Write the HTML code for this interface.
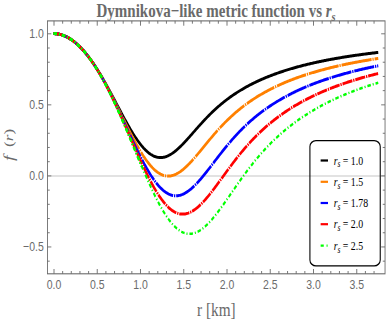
<!DOCTYPE html><html><head><meta charset="utf-8"><style>html,body{margin:0;padding:0;background:#fff}body{width:386px;height:321px;overflow:hidden;position:relative}</style></head><body><svg width="386" height="321" viewBox="0 0 386 321" style="position:absolute;left:0;top:0">
<rect width="386" height="321" fill="#fff"/>
<g transform="scale(0.800,1)">
<line x1="59.4" y1="175.9" x2="481.2" y2="175.9" stroke="#d9d9d9" stroke-width="1.5"/>
<path d="M66.88 33.60 L67.89 33.61 L68.90 33.65 L69.92 33.71 L70.93 33.80 L71.95 33.91 L72.96 34.05 L73.98 34.21 L74.99 34.40 L76.01 34.62 L77.02 34.85 L78.04 35.12 L79.05 35.40 L80.07 35.72 L81.08 36.06 L82.10 36.42 L83.11 36.81 L84.13 37.22 L85.14 37.66 L86.16 38.12 L87.17 38.61 L88.19 39.12 L89.20 39.66 L90.22 40.23 L91.23 40.81 L92.25 41.43 L93.26 42.06 L94.28 42.73 L95.29 43.41 L96.31 44.12 L97.32 44.86 L98.34 45.62 L99.35 46.41 L100.36 47.22 L101.38 48.05 L102.39 48.91 L103.41 49.79 L104.42 50.69 L105.44 51.62 L106.45 52.57 L107.47 53.55 L108.48 54.54 L109.50 55.57 L110.51 56.61 L111.53 57.68 L112.54 58.76 L113.56 59.87 L114.57 61.01 L115.59 62.16 L116.60 63.33 L117.62 64.53 L118.63 65.74 L119.65 66.98 L120.66 68.23 L121.68 69.51 L122.69 70.80 L123.71 72.11 L124.72 73.44 L125.74 74.78 L126.75 76.15 L127.77 77.52 L128.78 78.92 L129.80 80.33 L130.81 81.75 L131.82 83.18 L132.84 84.63 L133.85 86.09 L134.87 87.57 L135.88 89.05 L136.90 90.54 L137.91 92.04 L138.93 93.55 L139.94 95.07 L140.96 96.59 L141.97 98.12 L142.99 99.65 L144.00 101.19 L145.02 102.73 L146.03 104.27 L147.05 105.81 L148.06 107.34 L149.08 108.88 L150.09 110.42 L151.11 111.94 L152.12 113.47 L153.14 114.99 L154.15 116.50 L155.17 118.00 L156.18 119.49 L157.20 120.97 L158.21 122.43 L159.23 123.88 L160.24 125.32 L161.26 126.74 L162.27 128.14 L163.29 129.53 L164.30 130.89 L165.31 132.23 L166.33 133.55 L167.34 134.84 L168.36 136.11 L169.37 137.35 L170.39 138.57 L171.40 139.75 L172.42 140.91 L173.43 142.03 L174.45 143.12 L175.46 144.18 L176.48 145.20 L177.49 146.19 L178.51 147.14 L179.52 148.06 L180.54 148.93 L181.55 149.77 L182.57 150.57 L183.58 151.32 L184.60 152.04 L185.61 152.71 L186.63 153.34 L187.64 153.93 L188.66 154.47 L189.67 154.97 L190.69 155.43 L191.70 155.84 L192.72 156.21 L193.73 156.53 L194.75 156.81 L195.76 157.04 L196.78 157.23 L197.79 157.38 L198.80 157.48 L199.82 157.53 L200.83 157.54 L201.85 157.51 L202.86 157.44 L203.88 157.33 L204.89 157.17 L205.91 156.97 L206.92 156.74 L207.94 156.46 L208.95 156.15 L209.97 155.79 L210.98 155.41 L212.00 154.98 L213.01 154.52 L214.03 154.03 L215.04 153.51 L216.06 152.95 L217.07 152.37 L218.09 151.76 L219.10 151.12 L220.12 150.45 L221.13 149.76 L222.15 149.04 L223.16 148.31 L224.18 147.55 L225.19 146.77 L226.21 145.98 L227.22 145.16 L228.24 144.33 L229.25 143.49 L230.26 142.63 L231.28 141.77 L232.29 140.89 L233.31 140.00 L234.32 139.10 L235.34 138.20 L236.35 137.29 L237.37 136.37 L238.38 135.45 L239.40 134.53 L240.41 133.60 L241.43 132.68 L242.44 131.75 L243.46 130.82 L244.47 129.90 L245.49 128.97 L246.50 128.05 L247.52 127.14 L248.53 126.23 L249.55 125.32 L250.56 124.42 L251.58 123.52 L252.59 122.63 L253.61 121.75 L254.62 120.87 L255.64 120.00 L256.65 119.14 L257.67 118.29 L258.68 117.44 L259.70 116.60 L260.71 115.78 L261.73 114.96 L262.74 114.15 L263.75 113.35 L264.77 112.56 L265.78 111.78 L266.80 111.00 L267.81 110.24 L268.83 109.49 L269.84 108.75 L270.86 108.01 L271.87 107.29 L272.89 106.57 L273.90 105.87 L274.92 105.17 L275.93 104.48 L276.95 103.81 L277.96 103.14 L278.98 102.48 L279.99 101.83 L281.01 101.18 L282.02 100.55 L283.04 99.93 L284.05 99.31 L285.07 98.70 L286.08 98.10 L287.10 97.51 L288.11 96.92 L289.13 96.35 L290.14 95.78 L291.16 95.22 L292.17 94.67 L293.19 94.12 L294.20 93.58 L295.21 93.05 L296.23 92.52 L297.24 92.01 L298.26 91.50 L299.27 90.99 L300.29 90.49 L301.30 90.00 L302.32 89.52 L303.33 89.04 L304.35 88.57 L305.36 88.10 L306.38 87.64 L307.39 87.18 L308.41 86.73 L309.42 86.29 L310.44 85.85 L311.45 85.42 L312.47 84.99 L313.48 84.57 L314.50 84.15 L315.51 83.74 L316.53 83.33 L317.54 82.93 L318.56 82.53 L319.57 82.14 L320.59 81.75 L321.60 81.37 L322.62 80.99 L323.63 80.62 L324.65 80.25 L325.66 79.89 L326.68 79.52 L327.69 79.17 L328.70 78.81 L329.72 78.47 L330.73 78.12 L331.75 77.78 L332.76 77.44 L333.78 77.11 L334.79 76.78 L335.81 76.46 L336.82 76.14 L337.84 75.82 L338.85 75.50 L339.87 75.19 L340.88 74.89 L341.90 74.58 L342.91 74.28 L343.93 73.98 L344.94 73.69 L345.96 73.40 L346.97 73.11 L347.99 72.82 L349.00 72.54 L350.02 72.26 L351.03 71.99 L352.05 71.72 L353.06 71.45 L354.08 71.18 L355.09 70.92 L356.11 70.65 L357.12 70.40 L358.14 70.14 L359.15 69.89 L360.16 69.64 L361.18 69.39 L362.19 69.14 L363.21 68.90 L364.22 68.66 L365.24 68.42 L366.25 68.18 L367.27 67.95 L368.28 67.72 L369.30 67.49 L370.31 67.26 L371.33 67.04 L372.34 66.82 L373.36 66.60 L374.37 66.38 L375.39 66.17 L376.40 65.95 L377.42 65.74 L378.43 65.53 L379.45 65.33 L380.46 65.12 L381.48 64.92 L382.49 64.72 L383.51 64.52 L384.52 64.32 L385.54 64.13 L386.55 63.93 L387.57 63.74 L388.58 63.55 L389.60 63.36 L390.61 63.18 L391.62 62.99 L392.64 62.81 L393.65 62.63 L394.67 62.45 L395.68 62.27 L396.70 62.09 L397.71 61.92 L398.73 61.75 L399.74 61.58 L400.76 61.41 L401.77 61.24 L402.79 61.07 L403.80 60.91 L404.82 60.74 L405.83 60.58 L406.85 60.42 L407.86 60.26 L408.88 60.10 L409.89 59.94 L410.91 59.79 L411.92 59.64 L412.94 59.48 L413.95 59.33 L414.97 59.18 L415.98 59.03 L417.00 58.89 L418.01 58.74 L419.03 58.60 L420.04 58.45 L421.06 58.31 L422.07 58.17 L423.09 58.03 L424.10 57.89 L425.11 57.75 L426.13 57.62 L427.14 57.48 L428.16 57.35 L429.17 57.21 L430.19 57.08 L431.20 56.95 L432.22 56.82 L433.23 56.69 L434.25 56.57 L435.26 56.44 L436.28 56.32 L437.29 56.19 L438.31 56.07 L439.32 55.95 L440.34 55.82 L441.35 55.70 L442.37 55.58 L443.38 55.47 L444.40 55.35 L445.41 55.23 L446.43 55.12 L447.44 55.00 L448.46 54.89 L449.47 54.78 L450.49 54.66 L451.50 54.55 L452.52 54.44 L453.53 54.33 L454.55 54.23 L455.56 54.12 L456.57 54.01 L457.59 53.90 L458.60 53.80 L459.62 53.70 L460.63 53.59 L461.65 53.49 L462.66 53.39 L463.68 53.29 L464.69 53.19 L465.71 53.09 L466.72 52.99 L467.74 52.89 L468.75 52.79 L469.77 52.70 L470.78 52.60 L471.80 52.50 L472.81 52.41" fill="none" stroke="#000000" stroke-width="3.0"/>
<path d="M66.88 33.60 L67.89 33.61 L68.90 33.65 L69.92 33.71 L70.93 33.80 L71.95 33.91 L72.96 34.05 L73.98 34.21 L74.99 34.40 L76.01 34.62 L77.02 34.85 L78.04 35.12 L79.05 35.40 L80.07 35.72 L81.08 36.06 L82.10 36.42 L83.11 36.81 L84.13 37.22 L85.14 37.66 L86.16 38.12 L87.17 38.61 L88.19 39.13 L89.20 39.66 L90.22 40.23 L91.23 40.82 L92.25 41.43 L93.26 42.07 L94.28 42.73 L95.29 43.42 L96.31 44.13 L97.32 44.87 L98.34 45.63 L99.35 46.41 L100.36 47.22 L101.38 48.06 L102.39 48.92 L103.41 49.80 L104.42 50.71 L105.44 51.64 L106.45 52.59 L107.47 53.57 L108.48 54.57 L109.50 55.60 L110.51 56.65 L111.53 57.72 L112.54 58.82 L113.56 59.93 L114.57 61.07 L115.59 62.24 L116.60 63.42 L117.62 64.63 L118.63 65.85 L119.65 67.10 L120.66 68.37 L121.68 69.66 L122.69 70.97 L123.71 72.30 L124.72 73.65 L125.74 75.02 L126.75 76.41 L127.77 77.81 L128.78 79.23 L129.80 80.67 L130.81 82.13 L131.82 83.60 L132.84 85.09 L133.85 86.59 L134.87 88.11 L135.88 89.64 L136.90 91.19 L137.91 92.75 L138.93 94.32 L139.94 95.90 L140.96 97.49 L141.97 99.09 L142.99 100.70 L144.00 102.31 L145.02 103.94 L146.03 105.57 L147.05 107.21 L148.06 108.85 L149.08 110.49 L150.09 112.14 L151.11 113.79 L152.12 115.44 L153.14 117.09 L154.15 118.74 L155.17 120.39 L156.18 122.03 L157.20 123.67 L158.21 125.31 L159.23 126.93 L160.24 128.55 L161.26 130.16 L162.27 131.77 L163.29 133.36 L164.30 134.93 L165.31 136.50 L166.33 138.05 L167.34 139.58 L168.36 141.10 L169.37 142.59 L170.39 144.07 L171.40 145.53 L172.42 146.97 L173.43 148.38 L174.45 149.77 L175.46 151.14 L176.48 152.47 L177.49 153.78 L178.51 155.07 L179.52 156.32 L180.54 157.54 L181.55 158.73 L182.57 159.89 L183.58 161.01 L184.60 162.10 L185.61 163.15 L186.63 164.17 L187.64 165.14 L188.66 166.08 L189.67 166.98 L190.69 167.85 L191.70 168.67 L192.72 169.45 L193.73 170.18 L194.75 170.88 L195.76 171.53 L196.78 172.14 L197.79 172.71 L198.80 173.23 L199.82 173.71 L200.83 174.14 L201.85 174.53 L202.86 174.88 L203.88 175.18 L204.89 175.43 L205.91 175.64 L206.92 175.81 L207.94 175.93 L208.95 176.01 L209.97 176.04 L210.98 176.03 L212.00 175.98 L213.01 175.89 L214.03 175.75 L215.04 175.57 L216.06 175.35 L217.07 175.10 L218.09 174.80 L219.10 174.46 L220.12 174.09 L221.13 173.68 L222.15 173.24 L223.16 172.76 L224.18 172.24 L225.19 171.70 L226.21 171.12 L227.22 170.51 L228.24 169.88 L229.25 169.21 L230.26 168.52 L231.28 167.80 L232.29 167.06 L233.31 166.29 L234.32 165.50 L235.34 164.69 L236.35 163.86 L237.37 163.01 L238.38 162.15 L239.40 161.26 L240.41 160.37 L241.43 159.46 L242.44 158.53 L243.46 157.60 L244.47 156.65 L245.49 155.70 L246.50 154.73 L247.52 153.76 L248.53 152.79 L249.55 151.81 L250.56 150.82 L251.58 149.83 L252.59 148.84 L253.61 147.85 L254.62 146.85 L255.64 145.86 L256.65 144.87 L257.67 143.88 L258.68 142.89 L259.70 141.90 L260.71 140.92 L261.73 139.94 L262.74 138.97 L263.75 138.00 L264.77 137.04 L265.78 136.09 L266.80 135.14 L267.81 134.20 L268.83 133.26 L269.84 132.34 L270.86 131.42 L271.87 130.51 L272.89 129.60 L273.90 128.71 L274.92 127.83 L275.93 126.95 L276.95 126.08 L277.96 125.23 L278.98 124.38 L279.99 123.54 L281.01 122.71 L282.02 121.89 L283.04 121.08 L284.05 120.28 L285.07 119.49 L286.08 118.71 L287.10 117.94 L288.11 117.18 L289.13 116.42 L290.14 115.68 L291.16 114.94 L292.17 114.22 L293.19 113.50 L294.20 112.79 L295.21 112.10 L296.23 111.41 L297.24 110.72 L298.26 110.05 L299.27 109.39 L300.29 108.73 L301.30 108.08 L302.32 107.44 L303.33 106.81 L304.35 106.19 L305.36 105.57 L306.38 104.97 L307.39 104.37 L308.41 103.77 L309.42 103.19 L310.44 102.61 L311.45 102.04 L312.47 101.47 L313.48 100.92 L314.50 100.37 L315.51 99.82 L316.53 99.29 L317.54 98.75 L318.56 98.23 L319.57 97.71 L320.59 97.20 L321.60 96.69 L322.62 96.20 L323.63 95.70 L324.65 95.21 L325.66 94.73 L326.68 94.25 L327.69 93.78 L328.70 93.32 L329.72 92.86 L330.73 92.40 L331.75 91.95 L332.76 91.51 L333.78 91.07 L334.79 90.63 L335.81 90.20 L336.82 89.78 L337.84 89.36 L338.85 88.94 L339.87 88.53 L340.88 88.13 L341.90 87.73 L342.91 87.33 L343.93 86.94 L344.94 86.55 L345.96 86.16 L346.97 85.78 L347.99 85.41 L349.00 85.03 L350.02 84.67 L351.03 84.30 L352.05 83.94 L353.06 83.59 L354.08 83.23 L355.09 82.88 L356.11 82.54 L357.12 82.20 L358.14 81.86 L359.15 81.52 L360.16 81.19 L361.18 80.87 L362.19 80.54 L363.21 80.22 L364.22 79.90 L365.24 79.59 L366.25 79.28 L367.27 78.97 L368.28 78.66 L369.30 78.36 L370.31 78.06 L371.33 77.77 L372.34 77.47 L373.36 77.18 L374.37 76.90 L375.39 76.61 L376.40 76.33 L377.42 76.05 L378.43 75.78 L379.45 75.50 L380.46 75.23 L381.48 74.96 L382.49 74.70 L383.51 74.44 L384.52 74.17 L385.54 73.92 L386.55 73.66 L387.57 73.41 L388.58 73.16 L389.60 72.91 L390.61 72.66 L391.62 72.42 L392.64 72.18 L393.65 71.94 L394.67 71.70 L395.68 71.47 L396.70 71.23 L397.71 71.00 L398.73 70.77 L399.74 70.55 L400.76 70.32 L401.77 70.10 L402.79 69.88 L403.80 69.66 L404.82 69.45 L405.83 69.23 L406.85 69.02 L407.86 68.81 L408.88 68.60 L409.89 68.39 L410.91 68.19 L411.92 67.99 L412.94 67.78 L413.95 67.59 L414.97 67.39 L415.98 67.19 L417.00 67.00 L418.01 66.80 L419.03 66.61 L420.04 66.42 L421.06 66.24 L422.07 66.05 L423.09 65.86 L424.10 65.68 L425.11 65.50 L426.13 65.32 L427.14 65.14 L428.16 64.96 L429.17 64.79 L430.19 64.62 L431.20 64.44 L432.22 64.27 L433.23 64.10 L434.25 63.93 L435.26 63.77 L436.28 63.60 L437.29 63.44 L438.31 63.27 L439.32 63.11 L440.34 62.95 L441.35 62.79 L442.37 62.64 L443.38 62.48 L444.40 62.32 L445.41 62.17 L446.43 62.02 L447.44 61.87 L448.46 61.72 L449.47 61.57 L450.49 61.42 L451.50 61.27 L452.52 61.13 L453.53 60.98 L454.55 60.84 L455.56 60.70 L456.57 60.56 L457.59 60.42 L458.60 60.28 L459.62 60.14 L460.63 60.00 L461.65 59.87 L462.66 59.73 L463.68 59.60 L464.69 59.47 L465.71 59.34 L466.72 59.21 L467.74 59.08 L468.75 58.95 L469.77 58.82 L470.78 58.69 L471.80 58.57 L472.81 58.44" fill="none" stroke="#ff8000" stroke-width="3.0" stroke-dasharray="37.9 1.1 1.6 1.1"/>
<path d="M66.88 33.60 L67.89 33.61 L68.90 33.65 L69.92 33.71 L70.93 33.80 L71.95 33.91 L72.96 34.05 L73.98 34.21 L74.99 34.40 L76.01 34.62 L77.02 34.85 L78.04 35.12 L79.05 35.40 L80.07 35.72 L81.08 36.06 L82.10 36.42 L83.11 36.81 L84.13 37.22 L85.14 37.66 L86.16 38.12 L87.17 38.61 L88.19 39.13 L89.20 39.66 L90.22 40.23 L91.23 40.82 L92.25 41.43 L93.26 42.07 L94.28 42.73 L95.29 43.42 L96.31 44.13 L97.32 44.87 L98.34 45.63 L99.35 46.42 L100.36 47.23 L101.38 48.06 L102.39 48.93 L103.41 49.81 L104.42 50.72 L105.44 51.65 L106.45 52.61 L107.47 53.59 L108.48 54.60 L109.50 55.63 L110.51 56.68 L111.53 57.75 L112.54 58.85 L113.56 59.98 L114.57 61.12 L115.59 62.29 L116.60 63.48 L117.62 64.70 L118.63 65.93 L119.65 67.19 L120.66 68.47 L121.68 69.77 L122.69 71.09 L123.71 72.44 L124.72 73.80 L125.74 75.19 L126.75 76.59 L127.77 78.02 L128.78 79.46 L129.80 80.92 L130.81 82.40 L131.82 83.90 L132.84 85.42 L133.85 86.95 L134.87 88.50 L135.88 90.07 L136.90 91.66 L137.91 93.25 L138.93 94.87 L139.94 96.49 L140.96 98.13 L141.97 99.79 L142.99 101.45 L144.00 103.13 L145.02 104.82 L146.03 106.52 L147.05 108.23 L148.06 109.95 L149.08 111.67 L150.09 113.40 L151.11 115.14 L152.12 116.89 L153.14 118.64 L154.15 120.39 L155.17 122.15 L156.18 123.91 L157.20 125.67 L158.21 127.43 L159.23 129.19 L160.24 130.95 L161.26 132.71 L162.27 134.46 L163.29 136.21 L164.30 137.95 L165.31 139.69 L166.33 141.42 L167.34 143.14 L168.36 144.85 L169.37 146.55 L170.39 148.24 L171.40 149.91 L172.42 151.57 L173.43 153.22 L174.45 154.85 L175.46 156.46 L176.48 158.06 L177.49 159.63 L178.51 161.18 L179.52 162.71 L180.54 164.22 L181.55 165.71 L182.57 167.16 L183.58 168.60 L184.60 170.00 L185.61 171.38 L186.63 172.73 L187.64 174.05 L188.66 175.33 L189.67 176.59 L190.69 177.81 L191.70 178.99 L192.72 180.14 L193.73 181.26 L194.75 182.34 L195.76 183.38 L196.78 184.38 L197.79 185.35 L198.80 186.27 L199.82 187.16 L200.83 188.00 L201.85 188.80 L202.86 189.56 L203.88 190.28 L204.89 190.95 L205.91 191.58 L206.92 192.17 L207.94 192.71 L208.95 193.21 L209.97 193.66 L210.98 194.07 L212.00 194.44 L213.01 194.76 L214.03 195.03 L215.04 195.26 L216.06 195.45 L217.07 195.59 L218.09 195.69 L219.10 195.74 L220.12 195.75 L221.13 195.72 L222.15 195.65 L223.16 195.53 L224.18 195.37 L225.19 195.17 L226.21 194.93 L227.22 194.65 L228.24 194.33 L229.25 193.97 L230.26 193.58 L231.28 193.15 L232.29 192.68 L233.31 192.18 L234.32 191.64 L235.34 191.07 L236.35 190.47 L237.37 189.84 L238.38 189.18 L239.40 188.49 L240.41 187.77 L241.43 187.02 L242.44 186.25 L243.46 185.45 L244.47 184.63 L245.49 183.79 L246.50 182.93 L247.52 182.05 L248.53 181.15 L249.55 180.23 L250.56 179.29 L251.58 178.34 L252.59 177.38 L253.61 176.40 L254.62 175.41 L255.64 174.40 L256.65 173.39 L257.67 172.37 L258.68 171.34 L259.70 170.31 L260.71 169.26 L261.73 168.22 L262.74 167.17 L263.75 166.11 L264.77 165.05 L265.78 164.00 L266.80 162.94 L267.81 161.88 L268.83 160.82 L269.84 159.76 L270.86 158.70 L271.87 157.65 L272.89 156.60 L273.90 155.55 L274.92 154.51 L275.93 153.47 L276.95 152.44 L277.96 151.41 L278.98 150.39 L279.99 149.38 L281.01 148.37 L282.02 147.38 L283.04 146.38 L284.05 145.40 L285.07 144.43 L286.08 143.46 L287.10 142.50 L288.11 141.55 L289.13 140.61 L290.14 139.68 L291.16 138.75 L292.17 137.84 L293.19 136.94 L294.20 136.04 L295.21 135.16 L296.23 134.28 L297.24 133.41 L298.26 132.56 L299.27 131.71 L300.29 130.87 L301.30 130.04 L302.32 129.22 L303.33 128.41 L304.35 127.61 L305.36 126.82 L306.38 126.04 L307.39 125.27 L308.41 124.51 L309.42 123.75 L310.44 123.01 L311.45 122.27 L312.47 121.54 L313.48 120.82 L314.50 120.11 L315.51 119.41 L316.53 118.71 L317.54 118.03 L318.56 117.35 L319.57 116.68 L320.59 116.02 L321.60 115.36 L322.62 114.71 L323.63 114.07 L324.65 113.44 L325.66 112.82 L326.68 112.20 L327.69 111.59 L328.70 110.99 L329.72 110.39 L330.73 109.80 L331.75 109.22 L332.76 108.64 L333.78 108.07 L334.79 107.51 L335.81 106.95 L336.82 106.40 L337.84 105.86 L338.85 105.32 L339.87 104.79 L340.88 104.26 L341.90 103.74 L342.91 103.23 L343.93 102.72 L344.94 102.22 L345.96 101.72 L346.97 101.22 L347.99 100.74 L349.00 100.25 L350.02 99.78 L351.03 99.31 L352.05 98.84 L353.06 98.38 L354.08 97.92 L355.09 97.47 L356.11 97.02 L357.12 96.58 L358.14 96.14 L359.15 95.71 L360.16 95.28 L361.18 94.85 L362.19 94.43 L363.21 94.02 L364.22 93.60 L365.24 93.20 L366.25 92.79 L367.27 92.39 L368.28 92.00 L369.30 91.61 L370.31 91.22 L371.33 90.84 L372.34 90.46 L373.36 90.08 L374.37 89.71 L375.39 89.34 L376.40 88.98 L377.42 88.61 L378.43 88.26 L379.45 87.90 L380.46 87.55 L381.48 87.20 L382.49 86.86 L383.51 86.52 L384.52 86.18 L385.54 85.85 L386.55 85.52 L387.57 85.19 L388.58 84.86 L389.60 84.54 L390.61 84.22 L391.62 83.91 L392.64 83.59 L393.65 83.28 L394.67 82.98 L395.68 82.67 L396.70 82.37 L397.71 82.07 L398.73 81.78 L399.74 81.48 L400.76 81.19 L401.77 80.90 L402.79 80.62 L403.80 80.34 L404.82 80.05 L405.83 79.78 L406.85 79.50 L407.86 79.23 L408.88 78.96 L409.89 78.69 L410.91 78.43 L411.92 78.16 L412.94 77.90 L413.95 77.64 L414.97 77.39 L415.98 77.13 L417.00 76.88 L418.01 76.63 L419.03 76.38 L420.04 76.14 L421.06 75.89 L422.07 75.65 L423.09 75.41 L424.10 75.18 L425.11 74.94 L426.13 74.71 L427.14 74.48 L428.16 74.25 L429.17 74.02 L430.19 73.79 L431.20 73.57 L432.22 73.35 L433.23 73.13 L434.25 72.91 L435.26 72.69 L436.28 72.48 L437.29 72.27 L438.31 72.06 L439.32 71.85 L440.34 71.64 L441.35 71.43 L442.37 71.23 L443.38 71.03 L444.40 70.83 L445.41 70.63 L446.43 70.43 L447.44 70.23 L448.46 70.04 L449.47 69.84 L450.49 69.65 L451.50 69.46 L452.52 69.27 L453.53 69.09 L454.55 68.90 L455.56 68.72 L456.57 68.53 L457.59 68.35 L458.60 68.17 L459.62 68.00 L460.63 67.82 L461.65 67.64 L462.66 67.47 L463.68 67.30 L464.69 67.12 L465.71 66.95 L466.72 66.78 L467.74 66.62 L468.75 66.45 L469.77 66.28 L470.78 66.12 L471.80 65.96 L472.81 65.80" fill="none" stroke="#0000ff" stroke-width="3.0" stroke-dasharray="25.2 1.1 1.6 1.1"/>
<path d="M66.88 33.60 L67.89 33.61 L68.90 33.65 L69.92 33.71 L70.93 33.80 L71.95 33.91 L72.96 34.05 L73.98 34.21 L74.99 34.40 L76.01 34.62 L77.02 34.85 L78.04 35.12 L79.05 35.40 L80.07 35.72 L81.08 36.06 L82.10 36.42 L83.11 36.81 L84.13 37.22 L85.14 37.66 L86.16 38.12 L87.17 38.61 L88.19 39.13 L89.20 39.66 L90.22 40.23 L91.23 40.82 L92.25 41.43 L93.26 42.07 L94.28 42.73 L95.29 43.42 L96.31 44.13 L97.32 44.87 L98.34 45.63 L99.35 46.42 L100.36 47.23 L101.38 48.07 L102.39 48.93 L103.41 49.82 L104.42 50.73 L105.44 51.66 L106.45 52.62 L107.47 53.60 L108.48 54.61 L109.50 55.64 L110.51 56.70 L111.53 57.78 L112.54 58.88 L113.56 60.00 L114.57 61.15 L115.59 62.33 L116.60 63.52 L117.62 64.74 L118.63 65.98 L119.65 67.25 L120.66 68.53 L121.68 69.84 L122.69 71.17 L123.71 72.53 L124.72 73.90 L125.74 75.30 L126.75 76.71 L127.77 78.15 L128.78 79.61 L129.80 81.09 L130.81 82.58 L131.82 84.10 L132.84 85.64 L133.85 87.19 L134.87 88.76 L135.88 90.35 L136.90 91.96 L137.91 93.59 L138.93 95.23 L139.94 96.89 L140.96 98.56 L141.97 100.25 L142.99 101.95 L144.00 103.67 L145.02 105.40 L146.03 107.15 L147.05 108.90 L148.06 110.67 L149.08 112.45 L150.09 114.24 L151.11 116.04 L152.12 117.85 L153.14 119.67 L154.15 121.49 L155.17 123.32 L156.18 125.16 L157.20 127.00 L158.21 128.85 L159.23 130.70 L160.24 132.56 L161.26 134.41 L162.27 136.27 L163.29 138.13 L164.30 139.99 L165.31 141.84 L166.33 143.70 L167.34 145.55 L168.36 147.39 L169.37 149.24 L170.39 151.07 L171.40 152.90 L172.42 154.72 L173.43 156.53 L174.45 158.33 L175.46 160.11 L176.48 161.89 L177.49 163.65 L178.51 165.40 L179.52 167.13 L180.54 168.85 L181.55 170.55 L182.57 172.23 L183.58 173.89 L184.60 175.53 L185.61 177.14 L186.63 178.74 L187.64 180.31 L188.66 181.85 L189.67 183.37 L190.69 184.87 L191.70 186.33 L192.72 187.77 L193.73 189.17 L194.75 190.55 L195.76 191.89 L196.78 193.20 L197.79 194.48 L198.80 195.72 L199.82 196.93 L200.83 198.10 L201.85 199.24 L202.86 200.33 L203.88 201.39 L204.89 202.41 L205.91 203.39 L206.92 204.33 L207.94 205.23 L208.95 206.09 L209.97 206.91 L210.98 207.68 L212.00 208.41 L213.01 209.10 L214.03 209.74 L215.04 210.34 L216.06 210.90 L217.07 211.41 L218.09 211.88 L219.10 212.30 L220.12 212.68 L221.13 213.01 L222.15 213.30 L223.16 213.54 L224.18 213.74 L225.19 213.90 L226.21 214.01 L227.22 214.08 L228.24 214.10 L229.25 214.08 L230.26 214.02 L231.28 213.91 L232.29 213.77 L233.31 213.58 L234.32 213.35 L235.34 213.08 L236.35 212.77 L237.37 212.42 L238.38 212.04 L239.40 211.62 L240.41 211.16 L241.43 210.66 L242.44 210.13 L243.46 209.57 L244.47 208.97 L245.49 208.34 L246.50 207.68 L247.52 206.99 L248.53 206.27 L249.55 205.52 L250.56 204.75 L251.58 203.95 L252.59 203.12 L253.61 202.27 L254.62 201.40 L255.64 200.50 L256.65 199.59 L257.67 198.65 L258.68 197.70 L259.70 196.73 L260.71 195.74 L261.73 194.74 L262.74 193.72 L263.75 192.69 L264.77 191.64 L265.78 190.59 L266.80 189.52 L267.81 188.45 L268.83 187.37 L269.84 186.28 L270.86 185.18 L271.87 184.08 L272.89 182.97 L273.90 181.86 L274.92 180.75 L275.93 179.63 L276.95 178.51 L277.96 177.39 L278.98 176.27 L279.99 175.16 L281.01 174.04 L282.02 172.93 L283.04 171.81 L284.05 170.71 L285.07 169.60 L286.08 168.50 L287.10 167.41 L288.11 166.31 L289.13 165.23 L290.14 164.15 L291.16 163.08 L292.17 162.01 L293.19 160.95 L294.20 159.90 L295.21 158.86 L296.23 157.82 L297.24 156.79 L298.26 155.77 L299.27 154.76 L300.29 153.76 L301.30 152.77 L302.32 151.79 L303.33 150.81 L304.35 149.84 L305.36 148.89 L306.38 147.94 L307.39 147.00 L308.41 146.08 L309.42 145.16 L310.44 144.25 L311.45 143.35 L312.47 142.46 L313.48 141.58 L314.50 140.71 L315.51 139.85 L316.53 138.99 L317.54 138.15 L318.56 137.32 L319.57 136.49 L320.59 135.68 L321.60 134.87 L322.62 134.07 L323.63 133.29 L324.65 132.51 L325.66 131.73 L326.68 130.97 L327.69 130.22 L328.70 129.47 L329.72 128.74 L330.73 128.01 L331.75 127.29 L332.76 126.58 L333.78 125.87 L334.79 125.17 L335.81 124.49 L336.82 123.80 L337.84 123.13 L338.85 122.46 L339.87 121.80 L340.88 121.15 L341.90 120.51 L342.91 119.87 L343.93 119.24 L344.94 118.62 L345.96 118.00 L346.97 117.39 L347.99 116.79 L349.00 116.19 L350.02 115.60 L351.03 115.01 L352.05 114.43 L353.06 113.86 L354.08 113.30 L355.09 112.74 L356.11 112.18 L357.12 111.63 L358.14 111.09 L359.15 110.55 L360.16 110.02 L361.18 109.50 L362.19 108.97 L363.21 108.46 L364.22 107.95 L365.24 107.44 L366.25 106.94 L367.27 106.45 L368.28 105.96 L369.30 105.48 L370.31 105.00 L371.33 104.52 L372.34 104.05 L373.36 103.58 L374.37 103.12 L375.39 102.67 L376.40 102.21 L377.42 101.77 L378.43 101.32 L379.45 100.88 L380.46 100.45 L381.48 100.02 L382.49 99.59 L383.51 99.17 L384.52 98.75 L385.54 98.34 L386.55 97.93 L387.57 97.52 L388.58 97.12 L389.60 96.72 L390.61 96.32 L391.62 95.93 L392.64 95.54 L393.65 95.16 L394.67 94.78 L395.68 94.40 L396.70 94.03 L397.71 93.66 L398.73 93.29 L399.74 92.93 L400.76 92.57 L401.77 92.21 L402.79 91.86 L403.80 91.51 L404.82 91.16 L405.83 90.82 L406.85 90.48 L407.86 90.14 L408.88 89.80 L409.89 89.47 L410.91 89.14 L411.92 88.81 L412.94 88.49 L413.95 88.17 L414.97 87.85 L415.98 87.54 L417.00 87.23 L418.01 86.92 L419.03 86.61 L420.04 86.31 L421.06 86.00 L422.07 85.70 L423.09 85.41 L424.10 85.11 L425.11 84.82 L426.13 84.53 L427.14 84.25 L428.16 83.96 L429.17 83.68 L430.19 83.40 L431.20 83.12 L432.22 82.85 L433.23 82.58 L434.25 82.31 L435.26 82.04 L436.28 81.77 L437.29 81.51 L438.31 81.25 L439.32 80.99 L440.34 80.73 L441.35 80.48 L442.37 80.22 L443.38 79.97 L444.40 79.72 L445.41 79.48 L446.43 79.23 L447.44 78.99 L448.46 78.75 L449.47 78.51 L450.49 78.27 L451.50 78.04 L452.52 77.80 L453.53 77.57 L454.55 77.34 L455.56 77.11 L456.57 76.89 L457.59 76.66 L458.60 76.44 L459.62 76.22 L460.63 76.00 L461.65 75.78 L462.66 75.56 L463.68 75.35 L464.69 75.14 L465.71 74.93 L466.72 74.72 L467.74 74.51 L468.75 74.30 L469.77 74.10 L470.78 73.89 L471.80 73.69 L472.81 73.49" fill="none" stroke="#ff0000" stroke-width="3.0" stroke-dasharray="12.7 1.1 1.6 1.1"/>
<path d="M66.88 33.60 L67.89 33.61 L68.90 33.65 L69.92 33.71 L70.93 33.80 L71.95 33.91 L72.96 34.05 L73.98 34.21 L74.99 34.40 L76.01 34.62 L77.02 34.85 L78.04 35.12 L79.05 35.40 L80.07 35.72 L81.08 36.06 L82.10 36.42 L83.11 36.81 L84.13 37.22 L85.14 37.66 L86.16 38.12 L87.17 38.61 L88.19 39.13 L89.20 39.66 L90.22 40.23 L91.23 40.82 L92.25 41.43 L93.26 42.07 L94.28 42.73 L95.29 43.42 L96.31 44.13 L97.32 44.87 L98.34 45.64 L99.35 46.42 L100.36 47.24 L101.38 48.07 L102.39 48.93 L103.41 49.82 L104.42 50.73 L105.44 51.67 L106.45 52.63 L107.47 53.61 L108.48 54.62 L109.50 55.65 L110.51 56.71 L111.53 57.79 L112.54 58.90 L113.56 60.03 L114.57 61.18 L115.59 62.35 L116.60 63.55 L117.62 64.78 L118.63 66.02 L119.65 67.29 L120.66 68.59 L121.68 69.90 L122.69 71.24 L123.71 72.60 L124.72 73.98 L125.74 75.38 L126.75 76.81 L127.77 78.26 L128.78 79.72 L129.80 81.21 L130.81 82.72 L131.82 84.25 L132.84 85.81 L133.85 87.38 L134.87 88.97 L135.88 90.58 L136.90 92.20 L137.91 93.85 L138.93 95.52 L139.94 97.20 L140.96 98.90 L141.97 100.62 L142.99 102.35 L144.00 104.10 L145.02 105.86 L146.03 107.64 L147.05 109.44 L148.06 111.25 L149.08 113.07 L150.09 114.90 L151.11 116.75 L152.12 118.61 L153.14 120.48 L154.15 122.36 L155.17 124.26 L156.18 126.16 L157.20 128.07 L158.21 129.98 L159.23 131.91 L160.24 133.84 L161.26 135.78 L162.27 137.72 L163.29 139.67 L164.30 141.62 L165.31 143.57 L166.33 145.53 L167.34 147.48 L168.36 149.44 L169.37 151.40 L170.39 153.35 L171.40 155.31 L172.42 157.26 L173.43 159.20 L174.45 161.14 L175.46 163.08 L176.48 165.00 L177.49 166.93 L178.51 168.84 L179.52 170.74 L180.54 172.63 L181.55 174.51 L182.57 176.37 L183.58 178.23 L184.60 180.07 L185.61 181.89 L186.63 183.69 L187.64 185.48 L188.66 187.25 L189.67 189.00 L190.69 190.73 L191.70 192.44 L192.72 194.12 L193.73 195.79 L194.75 197.42 L195.76 199.03 L196.78 200.62 L197.79 202.18 L198.80 203.71 L199.82 205.20 L200.83 206.67 L201.85 208.11 L202.86 209.52 L203.88 210.89 L204.89 212.23 L205.91 213.54 L206.92 214.81 L207.94 216.04 L208.95 217.24 L209.97 218.40 L210.98 219.52 L212.00 220.60 L213.01 221.64 L214.03 222.65 L215.04 223.61 L216.06 224.53 L217.07 225.41 L218.09 226.24 L219.10 227.04 L220.12 227.79 L221.13 228.50 L222.15 229.16 L223.16 229.78 L224.18 230.36 L225.19 230.89 L226.21 231.38 L227.22 231.82 L228.24 232.22 L229.25 232.57 L230.26 232.88 L231.28 233.15 L232.29 233.36 L233.31 233.54 L234.32 233.67 L235.34 233.76 L236.35 233.80 L237.37 233.80 L238.38 233.76 L239.40 233.67 L240.41 233.55 L241.43 233.38 L242.44 233.17 L243.46 232.92 L244.47 232.62 L245.49 232.29 L246.50 231.92 L247.52 231.52 L248.53 231.07 L249.55 230.59 L250.56 230.07 L251.58 229.52 L252.59 228.94 L253.61 228.32 L254.62 227.66 L255.64 226.98 L256.65 226.27 L257.67 225.52 L258.68 224.75 L259.70 223.95 L260.71 223.12 L261.73 222.27 L262.74 221.39 L263.75 220.49 L264.77 219.57 L265.78 218.62 L266.80 217.66 L267.81 216.67 L268.83 215.67 L269.84 214.65 L270.86 213.61 L271.87 212.55 L272.89 211.48 L273.90 210.40 L274.92 209.31 L275.93 208.20 L276.95 207.08 L277.96 205.96 L278.98 204.82 L279.99 203.68 L281.01 202.53 L282.02 201.37 L283.04 200.21 L284.05 199.04 L285.07 197.87 L286.08 196.70 L287.10 195.52 L288.11 194.34 L289.13 193.17 L290.14 191.99 L291.16 190.81 L292.17 189.64 L293.19 188.46 L294.20 187.29 L295.21 186.12 L296.23 184.96 L297.24 183.79 L298.26 182.64 L299.27 181.49 L300.29 180.34 L301.30 179.20 L302.32 178.06 L303.33 176.94 L304.35 175.82 L305.36 174.70 L306.38 173.60 L307.39 172.50 L308.41 171.41 L309.42 170.32 L310.44 169.25 L311.45 168.18 L312.47 167.13 L313.48 166.08 L314.50 165.04 L315.51 164.01 L316.53 162.99 L317.54 161.98 L318.56 160.97 L319.57 159.98 L320.59 159.00 L321.60 158.02 L322.62 157.06 L323.63 156.10 L324.65 155.16 L325.66 154.22 L326.68 153.30 L327.69 152.38 L328.70 151.47 L329.72 150.57 L330.73 149.69 L331.75 148.81 L332.76 147.94 L333.78 147.08 L334.79 146.22 L335.81 145.38 L336.82 144.55 L337.84 143.72 L338.85 142.90 L339.87 142.10 L340.88 141.30 L341.90 140.51 L342.91 139.72 L343.93 138.95 L344.94 138.18 L345.96 137.43 L346.97 136.68 L347.99 135.94 L349.00 135.20 L350.02 134.48 L351.03 133.76 L352.05 133.05 L353.06 132.34 L354.08 131.65 L355.09 130.96 L356.11 130.28 L357.12 129.60 L358.14 128.93 L359.15 128.27 L360.16 127.62 L361.18 126.97 L362.19 126.33 L363.21 125.70 L364.22 125.07 L365.24 124.45 L366.25 123.84 L367.27 123.23 L368.28 122.62 L369.30 122.03 L370.31 121.44 L371.33 120.85 L372.34 120.27 L373.36 119.70 L374.37 119.13 L375.39 118.57 L376.40 118.02 L377.42 117.46 L378.43 116.92 L379.45 116.38 L380.46 115.84 L381.48 115.31 L382.49 114.79 L383.51 114.27 L384.52 113.76 L385.54 113.25 L386.55 112.74 L387.57 112.24 L388.58 111.75 L389.60 111.25 L390.61 110.77 L391.62 110.29 L392.64 109.81 L393.65 109.34 L394.67 108.87 L395.68 108.41 L396.70 107.95 L397.71 107.49 L398.73 107.04 L399.74 106.59 L400.76 106.15 L401.77 105.71 L402.79 105.27 L403.80 104.84 L404.82 104.42 L405.83 103.99 L406.85 103.57 L407.86 103.16 L408.88 102.75 L409.89 102.34 L410.91 101.93 L411.92 101.53 L412.94 101.13 L413.95 100.74 L414.97 100.35 L415.98 99.96 L417.00 99.58 L418.01 99.19 L419.03 98.82 L420.04 98.44 L421.06 98.07 L422.07 97.70 L423.09 97.34 L424.10 96.98 L425.11 96.62 L426.13 96.26 L427.14 95.91 L428.16 95.56 L429.17 95.21 L430.19 94.87 L431.20 94.53 L432.22 94.19 L433.23 93.86 L434.25 93.52 L435.26 93.19 L436.28 92.87 L437.29 92.54 L438.31 92.22 L439.32 91.90 L440.34 91.59 L441.35 91.27 L442.37 90.96 L443.38 90.65 L444.40 90.35 L445.41 90.04 L446.43 89.74 L447.44 89.44 L448.46 89.15 L449.47 88.85 L450.49 88.56 L451.50 88.27 L452.52 87.98 L453.53 87.70 L454.55 87.41 L455.56 87.13 L456.57 86.85 L457.59 86.58 L458.60 86.30 L459.62 86.03 L460.63 85.76 L461.65 85.49 L462.66 85.23 L463.68 84.97 L464.69 84.70 L465.71 84.44 L466.72 84.19 L467.74 83.93 L468.75 83.68 L469.77 83.42 L470.78 83.17 L471.80 82.93 L472.81 82.68" fill="none" stroke="#00ff00" stroke-width="2.5" stroke-dasharray="4.4 2.4 1.3 2.4"/>
<path d="M66.88 33.60 L67.15 33.60 L67.43 33.60 L67.70 33.61 L67.98 33.61 L68.26 33.62 L68.53 33.63 L68.81 33.65 L69.08 33.66 L69.36 33.68 L69.64 33.69 L69.91 33.71 L70.19 33.73 L70.46 33.76 L70.74 33.78 L71.02 33.81 L71.29 33.84 L71.57 33.87 L71.84 33.90 L72.12 33.93 L72.40 33.97 L72.67 34.01 L72.95 34.05 L73.22 34.09 L73.50 34.13 L73.78 34.18 L74.05 34.23 L74.33 34.28 L74.60 34.33 L74.88 34.38 L75.16 34.43 L75.43 34.49 L75.71 34.55 L75.98 34.61 L76.26 34.67 L76.54 34.74 L76.81 34.80 L77.09 34.87 L77.36 34.94 L77.64 35.01 L77.92 35.08 L78.19 35.16 L78.47 35.24 L78.74 35.31 L79.02 35.40 L79.30 35.48 L79.57 35.56 L79.85 35.65 L80.12 35.74 L80.40 35.83 L80.68 35.92 L80.95 36.01 L81.23 36.11 L81.50 36.20 L81.78 36.30 L82.06 36.40 L82.33 36.51 L82.61 36.61 L82.89 36.72 L83.16 36.83 L83.44 36.94 L83.71 37.05 L83.99 37.16 L84.27 37.28 L84.54 37.40 L84.82 37.52 L85.09 37.64 L85.37 37.76 L85.65 37.89 L85.92 38.01 L86.20 38.14 L86.47 38.27 L86.75 38.41 L87.03 38.54 L87.30 38.68 L87.58 38.82 L87.85 38.96 L88.13 39.10 L88.41 39.24 L88.68 39.39 L88.96 39.53 L89.23 39.68 L89.51 39.83 L89.79 39.99 L90.06 40.14 L90.34 40.30 L90.61 40.46 L90.89 40.62 L91.17 40.78 L91.44 40.94 L91.72 41.11 L91.99 41.28 L92.27 41.45 L92.55 41.62 L92.82 41.79 L93.10 41.97 L93.37 42.14 L93.65 42.32 L93.93 42.50 L94.20 42.68 L94.48 42.87 L94.75 43.05 L95.03 43.24 L95.31 43.43 L95.58 43.62 L95.86 43.82 L96.13 44.01 L96.41 44.21 L96.69 44.41 L96.96 44.61 L97.24 44.81 L97.52 45.02 L97.79 45.22 L98.07 45.43 L98.34 45.64 L98.62 45.85 L98.90 46.07 L99.17 46.28 L99.45 46.50 L99.72 46.72 L100.00 46.94 L100.28 47.16 L100.55 47.39 L100.83 47.61 L101.10 47.84 L101.38 48.07 L101.66 48.30 L101.93 48.54 L102.21 48.77 L102.48 49.01 L102.76 49.25 L103.04 49.49 L103.31 49.74 L103.59 49.98 L103.86 50.23 L104.14 50.47 L104.42 50.72 L104.69 50.98 L104.97 51.23 L105.24 51.49 L105.52 51.74 L105.80 52.00 L106.07 52.26 L106.35 52.53 L106.62 52.79 L106.90 53.06 L107.18 53.33 L107.45 53.60 L107.73 53.87 L108.00 54.14 L108.28 54.42 L108.56 54.69 L108.83 54.97 L109.11 55.25 L109.38 55.54 L109.66 55.82 L109.94 56.11 L110.21 56.40 L110.49 56.69 L110.76 56.98 L111.04 57.27 L111.32 57.57 L111.59 57.86 L111.87 58.16 L112.15 58.46 L112.42 58.76 L112.70 59.07 L112.97 59.37 L113.25 59.68 L113.53 59.99 L113.80 60.30 L114.08 60.61 L114.35 60.93 L114.63 61.24 L114.91 61.56 L115.18 61.88 L115.46 62.20 L115.73 62.53 L116.01 62.85 L116.29 63.18 L116.56 63.51 L116.84 63.84 L117.11 64.17 L117.39 64.50 L117.67 64.84 L117.94 65.17 L118.22 65.51 L118.49 65.85 L118.77 66.19 L119.05 66.54 L119.32 66.88 L119.60 67.23 L119.87 67.58 L120.15 67.93 L120.43 68.28 L120.70 68.64 L120.98 68.99 L121.25 69.35 L121.53 69.71 L121.81 70.07 L122.08 70.43 L122.36 70.80 L122.63 71.16 L122.91 71.53 L123.19 71.90 L123.46 72.27 L123.74 72.64 L124.01 73.02 L124.29 73.39 L124.57 73.77 L124.84 74.15 L125.12 74.53 L125.39 74.91 L125.67 75.29 L125.95 75.68 L126.22 76.06 L126.50 76.45 L126.78 76.84 L127.05 77.24 L127.33 77.63 L127.60 78.02 L127.88 78.42 L128.16 78.82 L128.43 79.22 L128.71 79.62 L128.98 80.02 L129.26 80.42 L129.54 80.83 L129.81 81.24 L130.09 81.65 L130.36 82.06 L130.64 82.47 L130.92 82.88 L131.19 83.30 L131.47 83.71 L131.74 84.13 L132.02 84.55 L132.30 84.97 L132.57 85.39 L132.85 85.82 L133.12 86.24 L133.40 86.67 L133.68 87.10 L133.95 87.53 L134.23 87.96 L134.50 88.39 L134.78 88.83 L135.06 89.26 L135.33 89.70 L135.61 90.14 L135.88 90.58 L136.16 91.02 L136.44 91.46 L136.71 91.90 L136.99 92.35 L137.26 92.79 L137.54 93.24 L137.82 93.69 L138.09 94.14 L138.37 94.59 L138.64 95.05 L138.92 95.50 L139.20 95.96 L139.47 96.42 L139.75 96.87 L140.02 97.33 L140.30 97.79 L140.58 98.26 L140.85 98.72 L141.13 99.19 L141.41 99.65 L141.68 100.12 L141.96 100.59 L142.23 101.06 L142.51 101.53 L142.79 102.00 L143.06 102.47 L143.34 102.95 L143.61 103.42 L143.89 103.90 L144.17 104.38 L144.44 104.86 L144.72 105.34 L144.99 105.82 L145.27 106.30 L145.55 106.79 L145.82 107.27 L146.10 107.76 L146.37 108.24 L146.65 108.73 L146.93 109.22 L147.20 109.71 L147.48 110.20 L147.75 110.70 L148.03 111.19 L148.31 111.68 L148.58 112.18 L148.86 112.67 L149.13 113.17 L149.41 113.67 L149.69 114.17 L149.96 114.67 L150.24 115.17 L150.51 115.67 L150.79 116.17 L151.07 116.68 L151.34 117.18 L151.62 117.69 L151.89 118.19 L152.17 118.70 L152.45 119.21 L152.72 119.72 L153.00 120.23 L153.27 120.74 L153.55 121.25 L153.83 121.76 L154.10 122.27 L154.38 122.79 L154.65 123.30 L154.93 123.82 L155.21 124.33 L155.48 124.85 L155.76 125.37 L156.04 125.88 L156.31 126.40 L156.59 126.92 L156.86 127.44 L157.14 127.96 L157.42 128.48 L157.69 129.00 L157.97 129.52 L158.24 130.05 L158.52 130.57 L158.80 131.09 L159.07 131.62 L159.35 132.14 L159.62 132.67 L159.90 133.19 L160.18 133.72 L160.45 134.24 L160.73 134.77 L161.00 135.30 L161.28 135.83 L161.56 136.35 L161.83 136.88 L162.11 137.41 L162.38 137.94 L162.66 138.47 L162.94 139.00 L163.21 139.53 L163.49 140.06 L163.76 140.59 L164.04 141.12 L164.32 141.65 L164.59 142.18 L164.87 142.71 L165.14 143.24 L165.42 143.78 L165.70 144.31 L165.97 144.84 L166.25 145.37 L166.52 145.90 L166.80 146.44 L167.08 146.97 L167.35 147.50 L167.63 148.03 L167.90 148.57 L168.18 149.10 L168.46 149.63 L168.73 150.16 L169.01 150.69 L169.28 151.23 L169.56 151.76 L169.84 152.29 L170.11 152.82 L170.39 153.35 L170.67 153.88 L170.94 154.42 L171.22 154.95 L171.49 155.48 L171.77 156.01 L172.05 156.54 L172.32 157.07 L172.60 157.60 L172.87 158.13 L173.15 158.66 L173.43 159.19 L173.70 159.71 L173.98 160.24 L174.25 160.77 L174.53 161.30 L174.81 161.82 L175.08 162.35 L175.36 162.88 L175.63 163.40 L175.91 163.93 L176.19 164.45 L176.46 164.97 L176.74 165.50 L177.01 166.02 L177.29 166.54" fill="none" stroke="#00ff00" stroke-width="2.95" stroke-dasharray="4.4 2.4 1.3 2.4"/>
<rect x="59.4" y="20.9" width="421.9" height="252.9" fill="none" stroke="#6a6a6a" stroke-width="1.1"/>
<path d="M67.50 273.80V269.00M67.50 20.90V25.70M78.31 273.80V271.00M78.31 20.90V23.70M89.12 273.80V271.00M89.12 20.90V23.70M99.94 273.80V271.00M99.94 20.90V23.70M110.75 273.80V271.00M110.75 20.90V23.70M121.56 273.80V269.00M121.56 20.90V25.70M132.38 273.80V271.00M132.38 20.90V23.70M143.19 273.80V271.00M143.19 20.90V23.70M154.00 273.80V271.00M154.00 20.90V23.70M164.81 273.80V271.00M164.81 20.90V23.70M175.62 273.80V269.00M175.62 20.90V25.70M186.44 273.80V271.00M186.44 20.90V23.70M197.25 273.80V271.00M197.25 20.90V23.70M208.06 273.80V271.00M208.06 20.90V23.70M218.88 273.80V271.00M218.88 20.90V23.70M229.69 273.80V269.00M229.69 20.90V25.70M240.50 273.80V271.00M240.50 20.90V23.70M251.31 273.80V271.00M251.31 20.90V23.70M262.12 273.80V271.00M262.12 20.90V23.70M272.94 273.80V271.00M272.94 20.90V23.70M283.75 273.80V269.00M283.75 20.90V25.70M294.56 273.80V271.00M294.56 20.90V23.70M305.38 273.80V271.00M305.38 20.90V23.70M316.19 273.80V271.00M316.19 20.90V23.70M327.00 273.80V271.00M327.00 20.90V23.70M337.81 273.80V269.00M337.81 20.90V25.70M348.62 273.80V271.00M348.62 20.90V23.70M359.44 273.80V271.00M359.44 20.90V23.70M370.25 273.80V271.00M370.25 20.90V23.70M381.06 273.80V271.00M381.06 20.90V23.70M391.88 273.80V269.00M391.88 20.90V25.70M402.69 273.80V271.00M402.69 20.90V23.70M413.50 273.80V271.00M413.50 20.90V23.70M424.31 273.80V271.00M424.31 20.90V23.70M435.13 273.80V271.00M435.13 20.90V23.70M445.94 273.80V269.00M445.94 20.90V25.70M456.75 273.80V271.00M456.75 20.90V23.70M467.56 273.80V271.00M467.56 20.90V23.70M59.38 261.16H62.17M481.25 261.16H478.45M59.38 246.95H64.17M481.25 246.95H476.45M59.38 232.74H62.17M481.25 232.74H478.45M59.38 218.53H62.17M481.25 218.53H478.45M59.38 204.32H62.17M481.25 204.32H478.45M59.38 190.11H62.17M481.25 190.11H478.45M59.38 175.90H64.17M481.25 175.90H476.45M59.38 161.69H62.17M481.25 161.69H478.45M59.38 147.48H62.17M481.25 147.48H478.45M59.38 133.27H62.17M481.25 133.27H478.45M59.38 119.06H62.17M481.25 119.06H478.45M59.38 104.85H64.17M481.25 104.85H476.45M59.38 90.64H62.17M481.25 90.64H478.45M59.38 76.43H62.17M481.25 76.43H478.45M59.38 62.22H62.17M481.25 62.22H478.45M59.38 48.01H62.17M481.25 48.01H478.45M59.38 33.80H64.17M481.25 33.80H476.45" stroke="#6a6a6a" stroke-width="1" fill="none"/>
<text x="67.5" y="289.3" text-anchor="middle" font-family='"Liberation Sans",sans-serif' font-size="13.1" fill="#6a6a6a">0.0</text>
<text x="121.6" y="289.3" text-anchor="middle" font-family='"Liberation Sans",sans-serif' font-size="13.1" fill="#6a6a6a">0.5</text>
<text x="175.6" y="289.3" text-anchor="middle" font-family='"Liberation Sans",sans-serif' font-size="13.1" fill="#6a6a6a">1.0</text>
<text x="229.7" y="289.3" text-anchor="middle" font-family='"Liberation Sans",sans-serif' font-size="13.1" fill="#6a6a6a">1.5</text>
<text x="283.8" y="289.3" text-anchor="middle" font-family='"Liberation Sans",sans-serif' font-size="13.1" fill="#6a6a6a">2.0</text>
<text x="337.8" y="289.3" text-anchor="middle" font-family='"Liberation Sans",sans-serif' font-size="13.1" fill="#6a6a6a">2.5</text>
<text x="391.9" y="289.3" text-anchor="middle" font-family='"Liberation Sans",sans-serif' font-size="13.1" fill="#6a6a6a">3.0</text>
<text x="445.9" y="289.3" text-anchor="middle" font-family='"Liberation Sans",sans-serif' font-size="13.1" fill="#6a6a6a">3.5</text>
<text x="54.7" y="38.3" text-anchor="end" font-family='"Liberation Sans",sans-serif' font-size="13.1" fill="#6a6a6a">1.0</text>
<text x="54.7" y="109.4" text-anchor="end" font-family='"Liberation Sans",sans-serif' font-size="13.1" fill="#6a6a6a">0.5</text>
<text x="54.7" y="180.4" text-anchor="end" font-family='"Liberation Sans",sans-serif' font-size="13.1" fill="#6a6a6a">0.0</text>
<text x="54.7" y="251.4" text-anchor="end" font-family='"Liberation Sans",sans-serif' font-size="13.1" fill="#6a6a6a">−0.5</text>
<text transform="translate(120.6,17.0) scale(1.0033,1)" font-family='"Liberation Serif",serif' font-size="18.7" font-weight="bold" fill="#6a6a6a">Dymnikova−like metric function vs <tspan font-style="italic">r</tspan><tspan font-style="italic" font-size="13" dy="3.8">s</tspan></text>
<text transform="translate(270.4,315.6) scale(1.07,1)" text-anchor="middle" font-family='"Liberation Serif",serif' font-size="17.8" fill="#6a6a6a">r [km]</text>
</g>
<g transform="translate(14.3,161.1) scale(0.690,1) rotate(-90)" fill="#6a6a6a" font-family='"Liberation Serif",serif'><text font-size="20" font-style="italic">f</text><text x="14.2" y="-1.6" font-size="17">(<tspan font-style="italic">r</tspan>)</text></g>
<g transform="scale(0.800,1)">
<rect x="387.4" y="140.6" width="87.9" height="125.3" rx="7.5" ry="6" fill="none" stroke="#000" stroke-width="1.35"/>
<line x1="400.8" y1="160.5" x2="410.0" y2="160.5" stroke="#000000" stroke-width="2.2"/>
<text x="417.1" y="164.7" font-family='"Liberation Serif",serif' font-size="12.3" fill="#000"><tspan font-style="italic">r</tspan><tspan font-style="italic" font-size="9.3" dy="2.8">s</tspan><tspan dy="-2.8"> = 1.0</tspan></text>
<line x1="400.8" y1="181.8" x2="410.0" y2="181.8" stroke="#ff8000" stroke-width="2.2"/>
<text x="417.1" y="186.0" font-family='"Liberation Serif",serif' font-size="12.3" fill="#000"><tspan font-style="italic">r</tspan><tspan font-style="italic" font-size="9.3" dy="2.8">s</tspan><tspan dy="-2.8"> = 1.5</tspan></text>
<line x1="400.8" y1="203.0" x2="410.0" y2="203.0" stroke="#0000ff" stroke-width="2.2"/>
<text x="417.1" y="207.2" font-family='"Liberation Serif",serif' font-size="12.3" fill="#000"><tspan font-style="italic">r</tspan><tspan font-style="italic" font-size="9.3" dy="2.8">s</tspan><tspan dy="-2.8"> = 1.78</tspan></text>
<line x1="400.8" y1="224.2" x2="410.0" y2="224.2" stroke="#ff0000" stroke-width="2.2"/>
<text x="417.1" y="228.4" font-family='"Liberation Serif",serif' font-size="12.3" fill="#000"><tspan font-style="italic">r</tspan><tspan font-style="italic" font-size="9.3" dy="2.8">s</tspan><tspan dy="-2.8"> = 2.0</tspan></text>
<line x1="400.8" y1="245.6" x2="410.0" y2="245.6" stroke="#00ff00" stroke-width="2.2" stroke-dasharray="3.9 3.5 1.3 9"/>
<text x="417.1" y="249.8" font-family='"Liberation Serif",serif' font-size="12.3" fill="#000"><tspan font-style="italic">r</tspan><tspan font-style="italic" font-size="9.3" dy="2.8">s</tspan><tspan dy="-2.8"> = 2.5</tspan></text>
</g>
</svg></body></html>
